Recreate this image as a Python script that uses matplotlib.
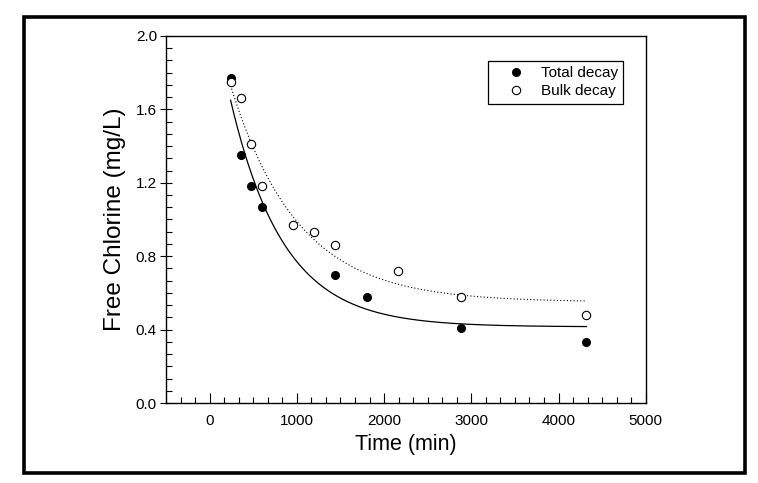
import numpy as np
import matplotlib
matplotlib.use("Agg")
import matplotlib.pyplot as plt
from matplotlib.patches import Rectangle
from matplotlib.ticker import MultipleLocator

plt.rcParams['font.family'] = ['Liberation Sans', 'DejaVu Sans']

# measured points
t_total = [240, 360, 480, 600, 1440, 1800, 2880, 4320]
c_total = [1.77, 1.35, 1.18, 1.07, 0.70, 0.58, 0.41, 0.33]
t_bulk = [240, 360, 480, 600, 960, 1200, 1440, 2160, 2880, 4320]
c_bulk = [1.75, 1.66, 1.41, 1.18, 0.97, 0.93, 0.86, 0.72, 0.58, 0.48]

# first-order decay fits: c = c_inf + a * exp(-k (t - t0))
fit_total = dict(c_inf=0.415, a=1.235, k=0.00164)
fit_bulk = dict(c_inf=0.55, a=1.18, k=0.0013)
t0, t1 = 240, 4320


def decay(t, c_inf, a, k):
    return c_inf + a * np.exp(-k * (t - t0))


fig = plt.figure(figsize=(7.58, 4.83), dpi=100)
ax = fig.add_axes([0.219, 0.1656, 0.633, 0.760])

tt = np.linspace(t0, t1, 300)
ax.plot(tt, decay(tt, **fit_total), color='black', lw=0.9)
ax.plot(tt, decay(tt, **fit_bulk), color='black', lw=0.8, linestyle=(0, (1, 2)))

ax.plot(t_total, c_total, 'o', color='black', ms=5.5, label='Total decay', zorder=3)
ax.plot(t_bulk, c_bulk, 'o', mfc='white', mec='black', mew=0.8, ms=6,
        label='Bulk decay', zorder=3)

ax.set_xlim(-500, 5000)
ax.set_ylim(0, 2.0)
ax.set_xticks([0, 1000, 2000, 3000, 4000, 5000])
ax.set_yticks([0.0, 0.4, 0.8, 1.2, 1.6, 2.0])
ax.yaxis.set_major_formatter(matplotlib.ticker.FormatStrFormatter('%.1f'))
ax.xaxis.set_minor_locator(MultipleLocator(1000 / 6))
ax.yaxis.set_minor_locator(MultipleLocator(0.4 / 6))
ax.tick_params(axis='x', which='major', direction='in', length=7, width=0.8,
               labelsize=11, pad=8)
ax.tick_params(axis='x', which='minor', direction='in', length=4, width=0.8)
ax.tick_params(axis='y', which='major', direction='inout', length=9, width=0.8,
               labelsize=11, pad=2)
ax.tick_params(axis='y', which='minor', direction='in', length=4, width=0.8)
for s in ax.spines.values():
    s.set_linewidth(1.0)

ax.set_xlabel('Time (min)', fontsize=15.5, labelpad=4)
ax.set_ylabel('Free Chlorine (mg/L)', fontsize=17.5, labelpad=7)

leg = ax.legend(loc='upper right', bbox_to_anchor=(623 / 758, 1 - 61 / 483),
                bbox_transform=fig.transFigure, fontsize=11, frameon=True,
                fancybox=False, edgecolor='black', framealpha=1,
                handlelength=3.0, handletextpad=0.1, borderpad=0.35,
                labelspacing=0.25, borderaxespad=0)
leg.get_frame().set_linewidth(0.9)

fig.patches.append(Rectangle((0.0323, 0.0197), 0.9835 - 0.0323, 0.9658 - 0.0197,
                             transform=fig.transFigure, fill=False,
                             edgecolor='black', linewidth=2.6))

fig.savefig('out.png', dpi=100)
